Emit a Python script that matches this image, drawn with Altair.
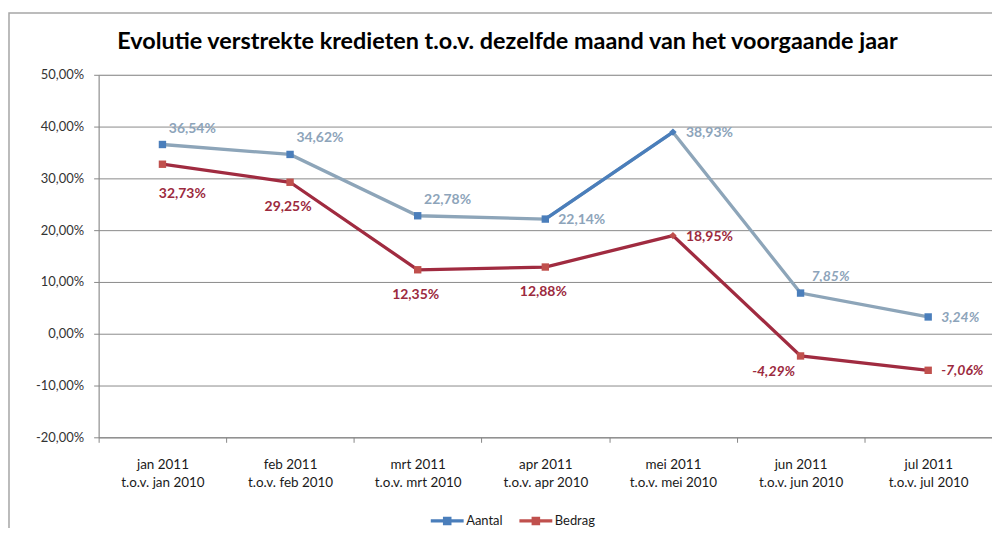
import altair as alt
import pandas as pd

# ---------------- data ----------------
months = ["jan", "feb", "mrt", "apr", "mei", "jun", "jul"]
categories = [f"{m} 2011\nt.o.v. {m} 2010" for m in months]
series_names = ["Aantal", "Bedrag"]
aantal = [36.54, 34.62, 22.78, 22.14, 38.93, 7.85, 3.24]
bedrag = [32.73, 29.25, 12.35, 12.88, 18.95, -4.29, -7.06]
y_ticks = [-20, -10, 0, 10, 20, 30, 40, 50]

# label placement (layout only)
aantal_place = ["above-right", "above-right", "above-right", "right", "right", "above-right", "right"]
bedrag_place = ["below-right", "below", "below", "below", "right", "below-left", "right"]
italic_months = ["jun", "jul"]
highlight_segment = ["apr", "mei"]  # Aantal segment drawn in stronger blue
diamond_month = "mei"

PLACE_STYLE = {
    "right": dict(align="left", dx=13, dy=1),
    "above-right": dict(align="center", dx=30, dy=-16),
    "below": dict(align="center", dx=-2, dy=25),
    "below-right": dict(align="center", dx=20, dy=30),
    "below-left": dict(align="center", dx=-27, dy=16),
}

LINE_COLORS = ["#8DA5B9", "#A02B40"]
MARKER_COLORS = ["#4A7EBB", "#C0504D"]
LABEL_COLORS = ["#8DA4BA", "#9C2A3E"]
FONT = "Lato"

rows = []
for s, vals, places in [("Aantal", aantal, aantal_place), ("Bedrag", bedrag, bedrag_place)]:
    for m, c, v, p in zip(months, categories, vals, places):
        rows.append({"month": m, "cat": c, "series": s, "value": v, "place": p,
                     "italic": m in italic_months,
                     "hl": (s == "Aantal") and (m in highlight_segment)})
df = pd.DataFrame(rows)

W, H = 897, 364

xenc = alt.X("cat:N", sort=categories,
             scale=alt.Scale(type="band", paddingInner=0, paddingOuter=0),
             axis=alt.Axis(title=None, labelAngle=0,
                           labelExpr="datum.value ? split(datum.value, '\\n') : ''",
                           labelFont=FONT, labelFontSize=13.5, labelColor="#1a1a1a",
                           labelPadding=15, labelLineHeight=18, tickBand="extent",
                           tickSize=5, tickColor="#878787", domainColor="#878787",
                           domainWidth=1, grid=False))
yenc = alt.Y("value:Q", scale=alt.Scale(domain=[-20, 50], nice=False),
             axis=alt.Axis(title=None, values=y_ticks,
                           labelExpr="replace(replace(format(datum.value, '.2f'), '.', ','), '\u2212', '-') + '%'",
                           labelFont=FONT, labelFontSize=13, labelColor="#333333",
                           labelPadding=10, tickSize=5, tickColor="#878787",
                           domainColor="#878787", gridColor="#8a8a8a", gridWidth=1))

base = alt.Chart(df)

frame = alt.Chart(pd.DataFrame({"k": [0]})).mark_rect(
    fill=None, stroke="#a6a6a6", strokeWidth=1.5
).encode(x=alt.value(-90), x2=alt.value(W + 40), y=alt.value(-62), y2=alt.value(H + 200))

line_layers = [
    base.transform_filter(f"datum.series == '{s}'").mark_line(
        strokeWidth=3.3, color=LINE_COLORS[i]).encode(x=xenc, y=yenc)
    for i, s in enumerate(series_names)
]

seg = base.transform_filter("datum.hl").mark_line(
    strokeWidth=3.3, color=MARKER_COLORS[0]).encode(x=xenc, y=yenc)

legend_path = ("M-1,-0.1L-0.26,-0.1L-0.26,-0.26L0.26,-0.26L0.26,-0.1L1,-0.1L1,0.1"
               "L0.26,0.1L0.26,0.26L-0.26,0.26L-0.26,0.1L-1,0.1Z")

points = base.mark_point(filled=True, size=55, opacity=1).encode(
    x=xenc, y=yenc,
    fill=alt.Fill("series:N", scale=alt.Scale(domain=series_names, range=MARKER_COLORS),
                  legend=alt.Legend(title=None, orient="none", direction="horizontal",
                                    legendX=333, legendY=431, symbolType=legend_path,
                                    symbolSize=1090, symbolStrokeWidth=0,
                                    labelFont=FONT, labelFontSize=13, labelColor="#1a1a1a",
                                    labelOffset=2, columnPadding=16, symbolOpacity=1)),
    shape=alt.condition(f"datum.month == '{diamond_month}'", alt.value("diamond"), alt.value("square")),
)

label_calc = "replace(replace(format(datum.value, '.2f'), '.', ','), '\u2212', '-') + '%'"

text_layers = []
for si, s in enumerate(series_names):
    for place, st in PLACE_STYLE.items():
        for it in (False, True):
            cond = f"datum.series == '{s}' && datum.place == '{place}' && datum.italic == {'true' if it else 'false'}"
            text_layers.append(
                base.transform_filter(cond).transform_calculate(lbl=label_calc).mark_text(
                    font=FONT, fontSize=14, fontWeight="bold",
                    fontStyle="italic" if it else "normal",
                    color=LABEL_COLORS[si], baseline="middle", **st
                ).encode(x=xenc, y=yenc, text="lbl:N")
            )

chart = alt.layer(frame, *line_layers, seg, points, *text_layers).properties(
    width=W, height=H,
    title=alt.TitleParams(
        "Evolutie verstrekte kredieten t.o.v. dezelfde maand van het voorgaande jaar",
        font=FONT, fontSize=23.5, fontWeight="bold", color="#000000",
        anchor="middle", frame="group", offset=-41, dx=-38),
    autosize=alt.AutoSizeParams(type="none"),
    padding={"left": 91, "top": 66, "right": 0, "bottom": 90},
).configure_view(stroke=None).configure(background="white")

chart.save("out.html", embed_options={"renderer": "svg", "actions": False})
